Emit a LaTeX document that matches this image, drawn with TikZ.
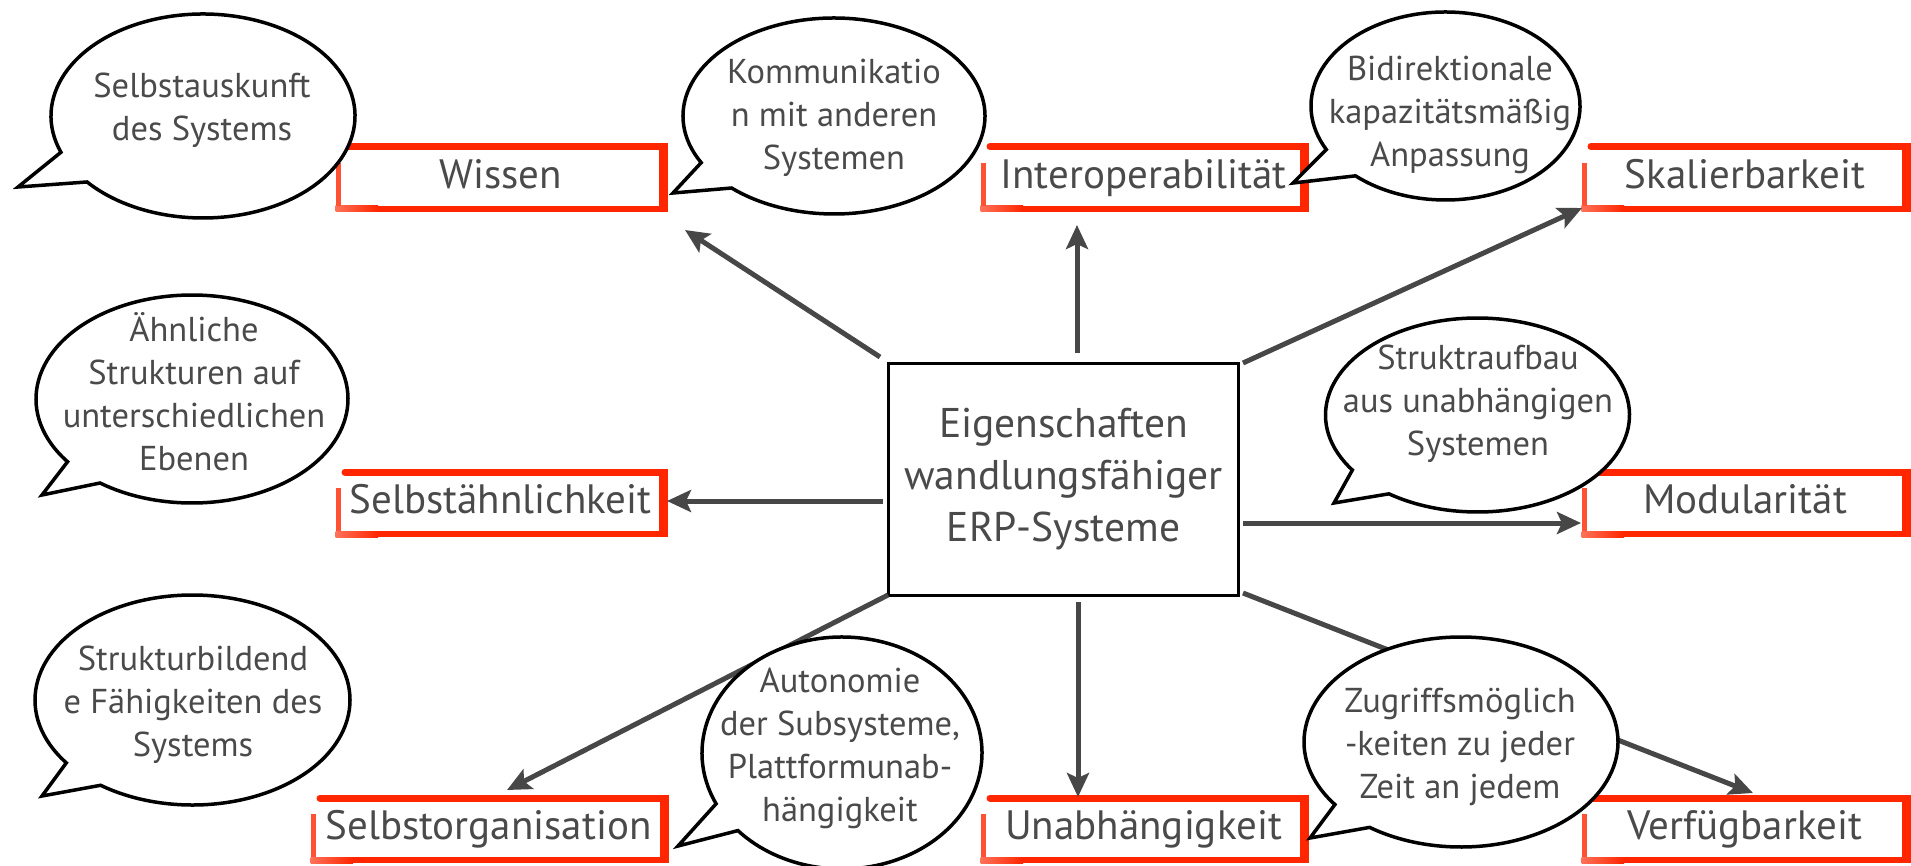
\documentclass[tikz,border=0pt]{standalone}
\usepackage{fontspec}
\setmainfont{PT Sans}
\usetikzlibrary{arrows.meta,calc}

\definecolor{brushred}{HTML}{FF2600}
\definecolor{ink}{HTML}{4A4A4A}
\definecolor{linkgray}{HTML}{474747}

\tikzset{
  keybox/.style={inner sep=0pt, outer sep=0pt, minimum height=62pt, text=ink,
    font=\fontsize{41}{50}\selectfont, text height=29pt, text depth=8pt},
  corebox/.style={draw=black, line width=3pt, inner sep=0pt, outer sep=0pt,
    minimum width=350pt, minimum height=232pt, text=ink, align=center,
    font=\fontsize{41.5}{52}\selectfont},
  bubbletext/.style={text=ink, align=center, inner sep=0pt,
    font=\fontsize{34.5}{43}\selectfont},
  bubbleline/.style={draw=black, fill=white, line width=3.5pt, line join=miter},
  link/.style={draw=linkgray, line width=5pt,
    -{Stealth[length=24pt, width=22pt, inset=5pt]}},
}

% labelled box with a hand-painted red frame
% #1 name, #2 centre, #3 width, #4 label
\newcommand\keybox[4]{%
  \node[keybox, minimum width=#3] (#1) at (#2) {#4};
  \draw[brushred, line width=7pt, line cap=round]
    ([xshift=7pt]#1.north west) -- ([xshift=1pt]#1.north east);
  \draw[brushred, line width=9pt]
    ([yshift=3.5pt]#1.north east) -- ([yshift=-3pt]#1.south east);
  \draw[brushred, line width=6pt]
    ([xshift=40pt]#1.south west) -- ([xshift=4.5pt]#1.south east);
  \shade[left color=brushred!65, right color=brushred]
    ([shift={(-2.5pt,3pt)}]#1.south west) rectangle ([shift={(40pt,-3pt)}]#1.south west);
  \draw[brushred!80, line width=5pt]
    ([yshift=-16pt]#1.north west) -- ([yshift=3pt]#1.south west);
}

% speech bubble: ellipse (cx,cy) radii rx ry, pointer between the two
% base points (b1x,b1y), (b2x,b2y) running out to the named tip coordinate
\newcommand\speechbubble[9]{%
  \pgfmathsetmacro\angA{atan2((#6-#2)/#4,(#5-#1)/#3)}%
  \pgfmathsetmacro\angB{atan2((#8-#2)/#4,(#7-#1)/#3)}%
  \pgfmathsetmacro\angGap{mod(\angB-\angA+540,360)-180}%
  \pgfmathsetmacro\angE{\angGap>0 ? \angA+\angGap-360 : \angA+\angGap+360}%
  \draw[bubbleline] (#1,#2) ++(\angA:#3 and #4)
    arc[start angle=\angA, end angle=\angE, x radius=#3, y radius=#4]
    -- (#9) -- cycle;
}

\begin{document}
\begin{tikzpicture}[x=1pt,y=-1pt]
\useasboundingbox (0,0) rectangle (1911,865);
\fill[white] (0,0) rectangle (1911,865);

% central box
\node[corebox] (core) at (1063.5,479.5) {Eigenschaften\\wandlungsfähiger\\ERP-Systeme};

% properties
\keybox{wissen}{500.5,177.5}{325pt}{Wissen}
\keybox{interop}{1143.5,177.5}{321pt}{Interoperabilität}
\keybox{skal}{1745,177.5}{322pt}{Skalierbarkeit}
\keybox{selbstae}{500.5,503}{325pt}{Selbstähnlichkeit}
\keybox{modul}{1745,503}{322pt}{Modularität}
\keybox{selbstorg}{488.5,829}{351pt}{Selbstorganisation}
\keybox{unabh}{1143.5,829}{321pt}{Unabhängigkeit}
\keybox{verf}{1745,829}{322pt}{Verfügbarkeit}

% arrows leaving the central box
\coordinate (s1) at (880,357);   \coordinate (e1) at (685,230);
\coordinate (s2) at (1077,353);  \coordinate (e2) at (1077,225);
\coordinate (s3) at (1243,363);  \coordinate (e3) at (1582,208);
\coordinate (s4) at (883,501);   \coordinate (e4) at (667,501);
\coordinate (s5) at (1243,523);  \coordinate (e5) at (1581,523);
\coordinate (s6) at (888,595);   \coordinate (e6) at (507,790);
\coordinate (s7) at (1078,602);  \coordinate (e7) at (1078,797);
\coordinate (s8) at (1243,593);  \coordinate (e8) at (1753,793);
\foreach \i in {1,...,8} \draw[link] (s\i) -- (e\i);

% speech bubbles
\coordinate (tipA) at (18,187);
\coordinate (tipB) at (673,193);
\coordinate (tipC) at (1293,183);
\coordinate (tipD) at (42,495);
\coordinate (tipE) at (1334,503);
\coordinate (tipF) at (42,796);
\coordinate (tipG) at (678,846);
\coordinate (tipH) at (1310,838);
\speechbubble{203}{116}{152}{102}{62}{152}{87}{182}{tipA}
\speechbubble{834}{116}{151}{98}{703}{162}{733}{187}{tipB}
\speechbubble{1445.5}{106}{134.5}{94}{1325}{150}{1354}{177}{tipC}
\speechbubble{192}{399}{156}{104}{67}{462}{100}{483}{tipD}
\speechbubble{1477.5}{415}{152}{97}{1357}{468}{1391}{492}{tipE}
\speechbubble{192.5}{700}{157.5}{105}{68}{762}{102}{784}{tipF}
\speechbubble{842}{753}{140}{116}{713}{805}{732}{835}{tipG}
\speechbubble{1461}{742}{157}{105}{1336}{804}{1370}{827}{tipH}

\node[bubbletext] (qA) at (202,110) {Selbstauskunft\\des Systems};
\node[bubbletext] (qB) at (834,118) {Kommunikatio\\n mit anderen\\Systemen};
\node[bubbletext] (qC) at (1450,115) {Bidirektionale\\kapazitätsmäßig\\Anpassung};
\node[bubbletext] (qD) at (194,392) {Ähnliche\\Strukturen auf\\unterschiedlichen\\Ebenen};
\node[bubbletext] (qE) at (1478,404) {Struktraufbau\\aus unabhängigen\\Systemen};
\node[bubbletext] (qF) at (193,705) {Strukturbildend\\e Fähigkeiten des\\Systems};
\node[bubbletext] (qG) at (840,748) {Autonomie\\der Subsysteme,\\Plattformunab-\\hängigkeit};
\node[bubbletext] (qH) at (1460,747) {Zugriffsmöglich\\-keiten zu jeder\\Zeit an jedem};
\end{tikzpicture}
\end{document}
